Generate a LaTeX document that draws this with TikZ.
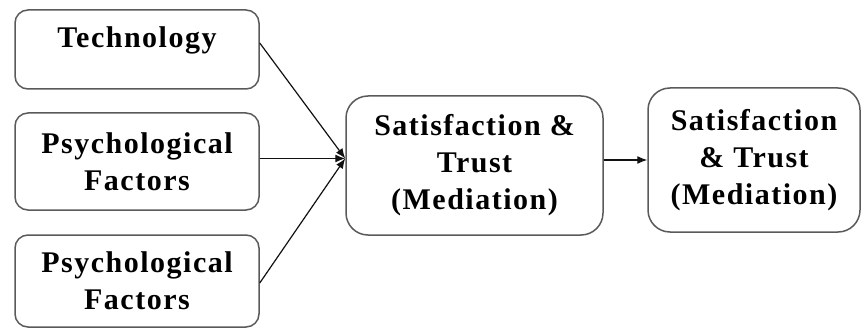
\documentclass[tikz,border=0pt]{standalone}
\usepackage{fontspec}
\setmainfont{Liberation Serif}[LetterSpace=5]
\usetikzlibrary{arrows.meta,calc,positioning}
\definecolor{Frame}{HTML}{5A5A5A}
\definecolor{Ink}{HTML}{111111}
\tikzset{box/.style={rounded corners=13pt,draw=Frame,line width=1.5pt,align=center,inner sep=0pt,font=\fontsize{30}{37}\selectfont\bfseries},bigbox/.style={box,rounded corners=22pt},flow/.style={-{Latex[length=10pt,width=8pt]},line width=1.2pt,draw=Ink}}
\begin{document}
\begin{tikzpicture}[x=1pt,y=-1pt]
        \useasboundingbox(0,0)rectangle(863,329);
        \node[box,minimum width=244pt,minimum height=79pt,text depth=24pt](tech)at(137,49.5){Technology};
        \node[box,minimum width=244pt,minimum height=97pt](psyA)at(137,161.5){Psychological\\Factors};
        \node[box,minimum width=244pt,minimum height=92pt](psyB)at(137,281){Psychological\\Factors};
        \node[bigbox,minimum width=257pt,minimum height=139pt](mid)at(474.5,165.5){Satisfaction \&\\Trust\\(Mediation)};
        \node[bigbox,minimum width=212pt,minimum height=144pt](out)at(754,160){Satisfaction\\\& Trust\\(Mediation)};
        \coordinate(hub)at([yshift=7pt]mid.west);
        \draw[flow]([yshift=6.5pt]tech.east)--(hub);
        \draw[flow]([yshift=3pt]psyA.east)--(hub);
        \draw[flow]([yshift=-2pt]psyB.east)--(hub);
        \draw[flow](out.west-|mid.east)--(out.west);
      \end{tikzpicture}
\end{document}
